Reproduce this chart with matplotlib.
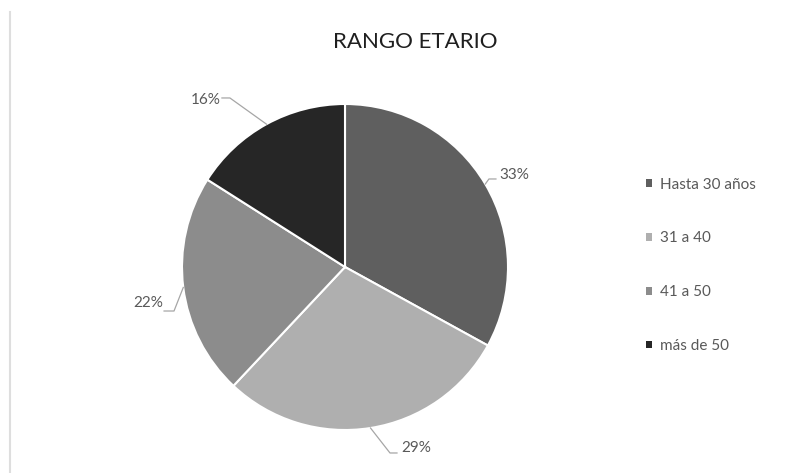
import matplotlib
matplotlib.use("Agg")
import matplotlib.pyplot as plt
from matplotlib.patches import Patch
from matplotlib.lines import Line2D
import numpy as np

# =========================
# データ
# =========================
categories = ["Hasta 30 años", "31 a 40", "41 a 50", "más de 50"]
values = [33, 29, 22, 16]
colors = ["#5f5f5f", "#afafaf", "#8c8c8c", "#262626"]

TITLE = "RANGO ETARIO"
TEXT_COLOR = "#595959"
LINE_COLOR = "#a6a6a6"

# ラベル位置 (データ座標, 半径=1)
label_text_pos = [(1.037, 0.565), (0.436, -1.110), (-1.209, -0.221), (-0.853, 1.025)]
# 折れ線の水平部分 (開始, 終了)
leader_elbow = [
    ((0.883, 0.540), (0.926, 0.540)),
    ((0.276, -1.141), (0.319, -1.141)),
    ((-1.049, -0.270), (-1.110, -0.270)),
    ((-0.706, 1.037), (-0.755, 1.037)),
]

plt.rcParams["font.family"] = ["Lato", "DejaVu Sans"]

fig = plt.figure(figsize=(8.06, 4.73), dpi=100)

# 左側の細い枠線
fig.add_artist(Line2D([10 / 806, 10 / 806], [0, 1 - 12 / 473],
                      transform=fig.transFigure, color="#dedede", linewidth=1.5))

ax = fig.add_axes([182 / 806, 43 / 473, 326 / 806, 326 / 473])
wedges, _ = ax.pie(values, colors=colors, startangle=90, counterclock=False,
                   radius=1, wedgeprops={"edgecolor": "white", "linewidth": 1.5})
ax.set_xlim(-1, 1)
ax.set_ylim(-1, 1)
ax.set_aspect("equal")
ax.axis("off")

total = sum(values)
for w, v, tp, (e1, e2) in zip(wedges, values, label_text_pos, leader_elbow):
    ang = np.deg2rad((w.theta1 + w.theta2) / 2)
    ex, ey = np.cos(ang), np.sin(ang)
    ax.plot([ex, e1[0], e2[0]], [ey, e1[1], e2[1]], color=LINE_COLOR,
            linewidth=0.9, clip_on=False)
    ax.text(tp[0], tp[1], f"{round(v / total * 100)}%", ha="center", va="center",
            fontsize=11, color=TEXT_COLOR, clip_on=False)

fig.text(415 / 806, 1 - 42 / 473, TITLE, ha="center", va="center",
         fontsize=16, color="#1f1f1f")

handles = [Patch(facecolor=c, edgecolor="none") for c in colors]
fig.legend(handles, categories, loc="upper left", bbox_to_anchor=(632 / 806, 1 - 164 / 473),
           frameon=False, fontsize=11, labelcolor=TEXT_COLOR, labelspacing=2.6,
           handlelength=0.4, handleheight=0.4, handletextpad=0.5)

fig.savefig("out.png", dpi=100)
